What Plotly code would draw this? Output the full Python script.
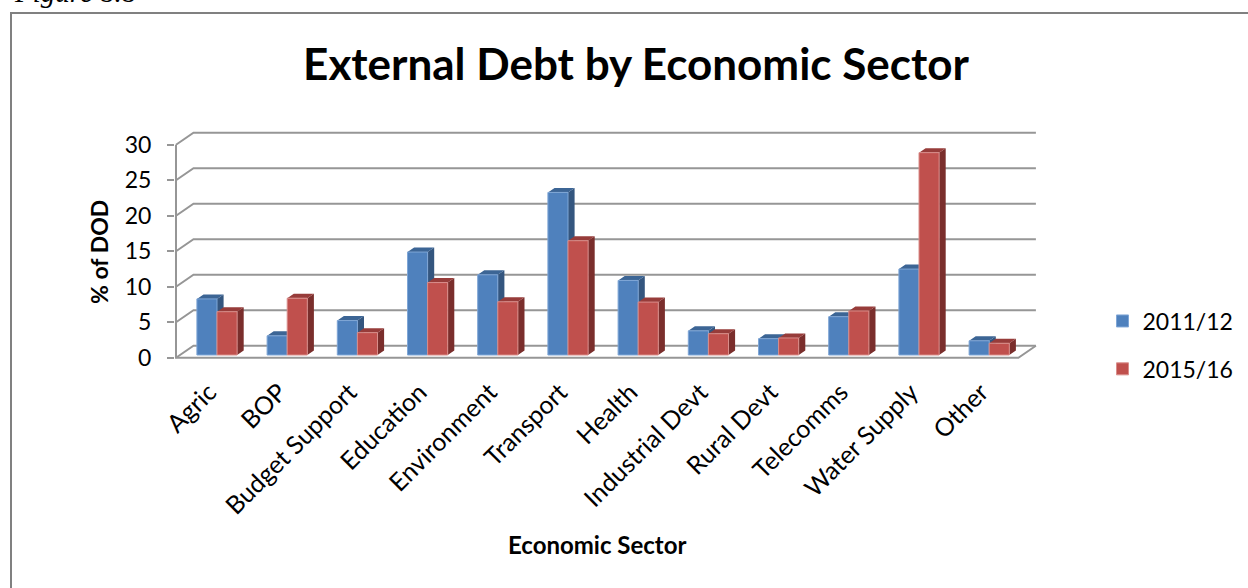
import plotly.graph_objects as go

# External debt shares by economic sector
sectors = ["Agric", "BOP", "Budget Support", "Education", "Environment", "Transport",
           "Health", "Industrial Devt", "Rural Devt", "Telecomms", "Water Supply", "Other"]
share_2011 = [7.9, 2.7, 4.85, 14.5, 11.3, 22.9, 10.5, 3.4, 2.3, 5.4, 12.1, 2.0]
share_2015 = [6.1, 8.0, 3.15, 10.2, 7.5, 16.1, 7.45, 3.0, 2.4, 6.2, 28.5, 1.65]
y_ticks = [0, 5, 10, 15, 20, 25, 30]

W, H = 1248, 588
LEFT, RIGHT, TOP, BOTTOM = 176, 1037.5, 133, 357.7
PAD_L, PAD_B, PAD_T = 1, 2, 3
PX_PER_CAT, PX_PER_UNIT = 70.2, 7.1

# Box depth of the back wall and of each column, in axis units
WALL_DX, WALL_DY = 17.5 / PX_PER_CAT, 12 / PX_PER_UNIT
BAR_DX, BAR_DY = 6.6 / PX_PER_CAT, 4.5 / PX_PER_UNIT
BAR_W = 20.1 / PX_PER_CAT
SHIFT_X, BASE_Y = 5.9 / PX_PER_CAT, 2.7 / PX_PER_UNIT
LABEL_SHIFT = 8 / PX_PER_CAT

# The ranges run slightly past the frame so its lines are not clipped in half
x_range = [-PAD_L / PX_PER_CAT, (RIGHT - LEFT) / PX_PER_CAT]
y_range = [-PAD_B / PX_PER_UNIT, (BOTTOM - TOP + PAD_T) / PX_PER_UNIT]
n = len(sectors)
centers = [i + 0.5 + SHIFT_X for i in range(n)]
label_pos = [c - LABEL_SHIFT for c in centers]

GRID = "#969696"
FONT = "Lato, 'Open Sans', sans-serif"
BLUE, BLUE_TOP, BLUE_SIDE, BLUE_EDGE = "#4F81BD", "#3C6595", "#34567F", "#7FA6D6"
RED, RED_TOP, RED_SIDE, RED_EDGE = "#C0504D", "#973C3A", "#7A2E2C", "#D98E8B"


def polygons(shapes):
    xs, ys = [], []
    for pts in shapes:
        xs += [p[0] for p in pts] + [pts[0][0], None]
        ys += [p[1] for p in pts] + [pts[0][1], None]
    return xs, ys


def faces(values, x_left):
    """Top and side faces of each column as closed outlines."""
    top, side = [], []
    for c, v in zip(centers, values):
        l = c + x_left
        r = l + BAR_W
        t = v + BASE_Y
        top.append([(l, t), (r, t), (r + BAR_DX, t + BAR_DY), (l + BAR_DX, t + BAR_DY)])
        side.append([(r, BASE_Y), (r, t), (r + BAR_DX, t + BAR_DY), (r + BAR_DX, BASE_Y + BAR_DY)])
    return top, side


fig = go.Figure()

# Depth faces sit on the lower axes pair, so the fronts on the overlay cover them
for values, x_left, top_col, side_col in [(share_2011, -BAR_W, BLUE_TOP, BLUE_SIDE),
                                          (share_2015, 0, RED_TOP, RED_SIDE)]:
    top, side = faces(values, x_left)
    for shapes, col in [(side, side_col), (top, top_col)]:
        xs, ys = polygons(shapes)
        fig.add_trace(go.Scatter(x=xs, y=ys, mode="lines", fill="toself", fillcolor=col,
                                 line=dict(width=0), hoverinfo="skip", showlegend=False,
                                 xaxis="x", yaxis="y"))

# Column fronts
for name, values, x_left, col, edge in [("2011/12", share_2011, -BAR_W, BLUE, BLUE_EDGE),
                                        ("2015/16", share_2015, 0, RED, RED_EDGE)]:
    fig.add_trace(go.Bar(name=name, x=centers, y=values, base=BASE_Y, width=BAR_W, offset=x_left,
                         marker=dict(color=col, line=dict(color=edge, width=1)),
                         legendgroup=name, xaxis="x2", yaxis="y2"))

# Back wall gridlines, floor and left axis line
shapes = []
for v in y_ticks:
    shapes.append(dict(type="path", xref="x", yref="y", layer="below",
                       path=f"M0,{v} L{WALL_DX},{v + WALL_DY} L{n + WALL_DX},{v + WALL_DY}",
                       line=dict(color=GRID, width=2)))
shapes.append(dict(type="path", xref="x", yref="y", layer="below",
                   path=f"M0,{y_ticks[-1]} L0,0 L{n},0 L{n + WALL_DX},{WALL_DY}",
                   line=dict(color=GRID, width=2)))
# Page frame, open at the right and bottom
shapes.append(dict(type="path", xref="paper", yref="paper", layer="below",
                   path=f"M{11 / W},0 L{11 / W},{1 - 13 / H} L1,{1 - 13 / H}",
                   line=dict(color="#808080", width=2)))

annotations = [
    dict(text="<i>Figure 8.8</i>", xref="paper", yref="paper", x=12 / W, y=1 - 10 / H,
         xanchor="left", yanchor="bottom", showarrow=False,
         font=dict(family="'Liberation Serif', serif", size=29, color="#000")),
    dict(text="<b>% of DOD</b>", xref="paper", yref="paper", x=99 / W, y=1 - 252 / H,
         xanchor="center", yanchor="middle", textangle=-90, showarrow=False,
         font=dict(family=FONT, size=23, color="#000")),
    dict(text="<b>Economic Sector</b>", xref="paper", yref="paper", x=597 / W, y=1 - 544 / H,
         xanchor="center", yanchor="middle", showarrow=False,
         font=dict(family=FONT, size=24, color="#000")),
]

fig.update_layout(
    width=W, height=H, margin=dict(l=0, r=0, t=0, b=0),
    paper_bgcolor="white", plot_bgcolor="rgba(0,0,0,0)",
    barmode="overlay",
    title=dict(text="<b>External Debt by Economic Sector</b>", xref="paper", yref="paper",
               x=636 / W, y=1 - 65 / H, xanchor="center", yanchor="middle",
               font=dict(family=FONT, size=44, color="#000"), automargin=False),
    xaxis=dict(domain=[(LEFT - PAD_L) / W, RIGHT / W], range=x_range, showgrid=False, zeroline=False,
               showline=False, tickmode="array", tickvals=label_pos, ticktext=sectors,
               tickangle=-45, ticks="", ticklabelstandoff=12, automargin=False,
               tickfont=dict(family=FONT, size=25, color="#000")),
    yaxis=dict(domain=[1 - (BOTTOM + PAD_B) / H, 1 - (TOP - PAD_T) / H], range=y_range, showgrid=False,
               zeroline=False, showline=False, tickmode="array", tickvals=y_ticks, ticks="outside",
               ticklen=7, tickwidth=2, tickcolor=GRID, ticklabelstandoff=11, automargin=False,
               tickfont=dict(family=FONT, size=23, color="#000")),
    xaxis2=dict(overlaying="x", range=x_range, visible=False),
    yaxis2=dict(overlaying="y", range=y_range, visible=False),
    legend=dict(x=1102.5 / W, y=1 - 299.5 / H, xanchor="left", yanchor="top",
                font=dict(family=FONT, size=23, color="#000"),
                tracegroupgap=15, bgcolor="rgba(0,0,0,0)"),
    shapes=shapes, annotations=annotations,
)

fig.write_html("out.html")
